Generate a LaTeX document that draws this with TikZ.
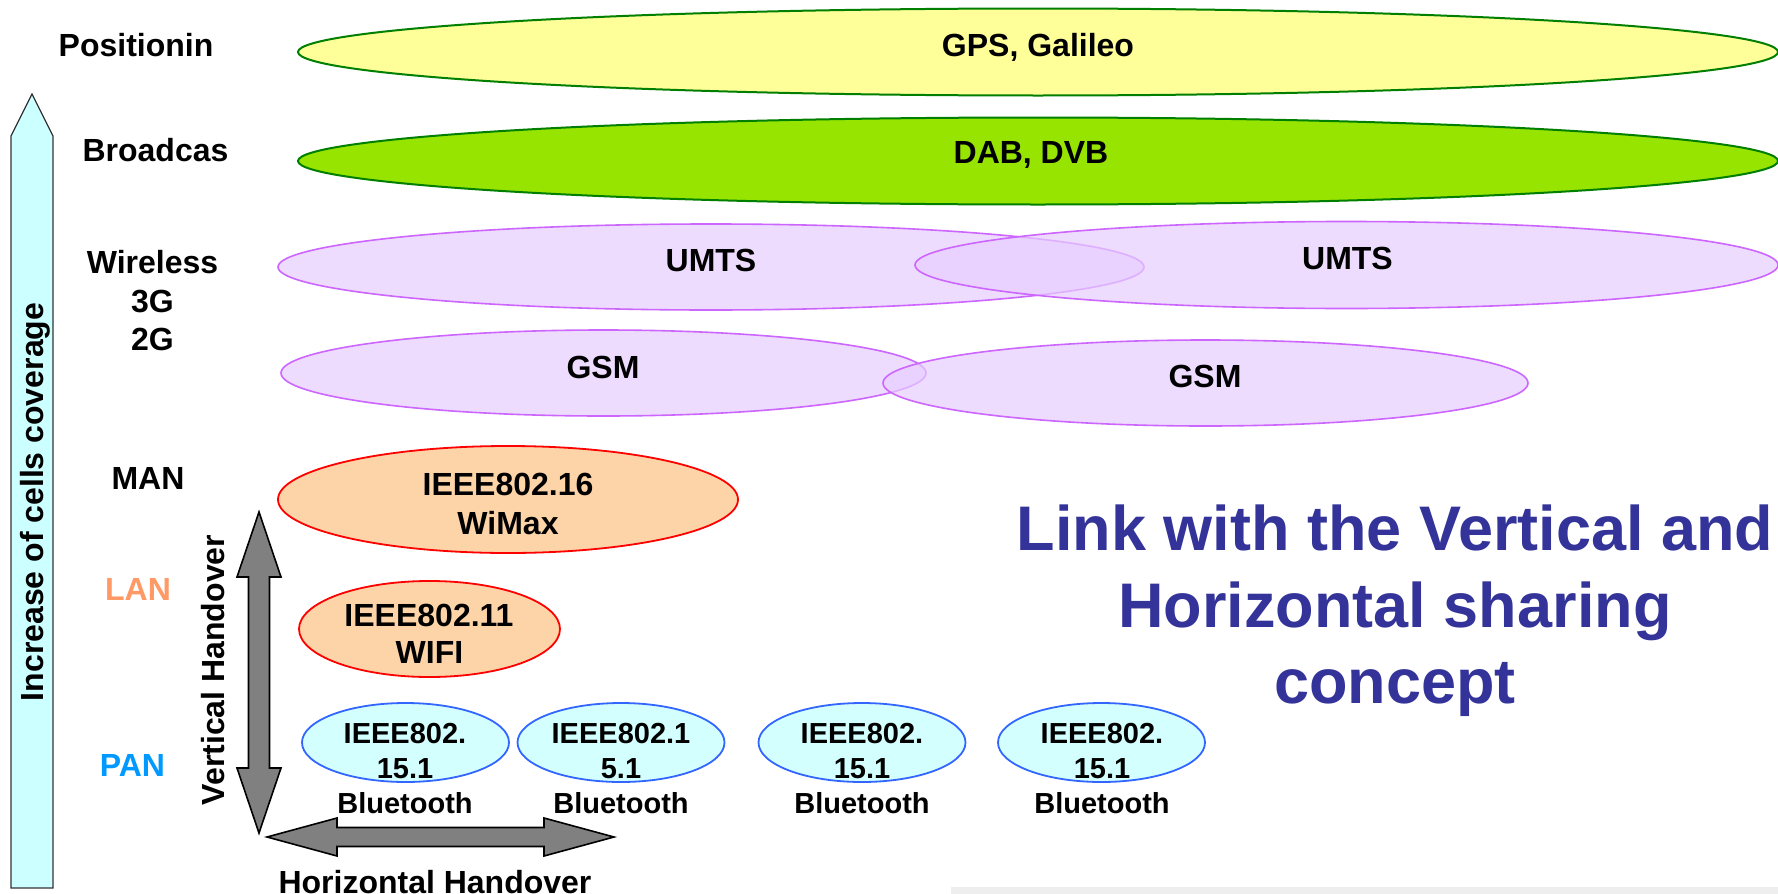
\documentclass[tikz,border=0pt]{standalone}
\usepackage{fontspec}
\setmainfont{Liberation Sans}
\usetikzlibrary{shapes.geometric}
\definecolor{yelfill}{HTML}{FFFF99}
\definecolor{grnfill}{HTML}{96E400}
\definecolor{grnline}{HTML}{007F00}
\definecolor{purfill}{HTML}{E7CEFF}
\definecolor{purline}{HTML}{CC66FF}
\definecolor{peach}{HTML}{FDD4A8}
\definecolor{btfill}{HTML}{D4FFFF}
\definecolor{btline}{HTML}{3366FF}
\definecolor{cyanfill}{HTML}{CCFFFF}
\definecolor{lancol}{HTML}{FF9966}
\definecolor{pancol}{HTML}{0099FF}
\definecolor{titlecol}{HTML}{333399}
\definecolor{arrgray}{HTML}{808080}
\begin{document}
\begin{tikzpicture}[x=0.5pt,y=-0.5pt,
  lbl/.style={font=\bfseries\fontsize{16}{19}\selectfont, inner sep=0pt, anchor=base},
  small/.style={font=\bfseries\fontsize{14.5}{17}\selectfont, inner sep=0pt, anchor=base},
  title/.style={font=\bfseries\fontsize{31.5}{38}\selectfont, inner sep=0pt, anchor=base, text=titlecol},
  ell/.style={ellipse, inner sep=0pt, draw},
  satell/.style={ell, draw=grnline, line width=1pt},
  purell/.style={ell, draw=purline, fill=purfill, fill opacity=0.7, line width=0.8pt},
  redell/.style={ell, draw=red, fill=peach, line width=0.9pt},
  btell/.style={ell, draw=btline, fill=btfill, line width=0.9pt, minimum width=103.5pt, minimum height=39.5pt},
  handarrow/.style={fill=arrgray, draw=black, line width=0.8pt, line join=miter}
]
\useasboundingbox (0,0) rectangle (1778,894);
\fill[white] (0,0) rectangle (1778,894);
\fill[gray!13] (951,887) rectangle (1778,894);

% big coverage arrow
\draw[fill=cyanfill, draw=black!80, line width=0.6pt] (11,888) -- (11,136) -- (32,94) -- (53,136) -- (53,888) -- cycle;
\node[lbl, rotate=90] (cov) at (43,502) {Increase of cells coverage};

% ellipses
\node[satell, fill=yelfill, minimum width=740pt, minimum height=43.5pt] (gps) at (1038,52) {};
\node[satell, fill=grnfill, minimum width=740pt, minimum height=43.5pt] (dab) at (1038,161) {};
\node[purell, minimum width=433pt, minimum height=43pt] (umtsL) at (711,267) {};
\node[purell, minimum width=431.5pt, minimum height=43.5pt] (umtsR) at (1346.5,265) {};
\node[purell, minimum width=322.5pt, minimum height=43pt] (gsmL) at (603.5,373) {};
\node[purell, minimum width=322.5pt, minimum height=43pt] (gsmR) at (1205.5,383) {};
\node[redell, minimum width=230pt, minimum height=53.5pt] (wimax) at (508,499.5) {};
\node[redell, minimum width=130.5pt, minimum height=48pt] (wifi) at (429.5,629) {};
\node[btell] (bt1) at (405.5,742.5) {};
\node[btell] (bt2) at (621,742.5) {};
\node[btell] (bt3) at (862,742.5) {};
\node[btell] (bt4) at (1101.5,742.5) {};

% handover arrows
\draw[handarrow] (259,512) -- (281,577) -- (269.5,577) -- (269.5,768) -- (281,768) -- (259,833)
  -- (237,768) -- (248.5,768) -- (248.5,577) -- (237,577) -- cycle;
\draw[handarrow] (267,837) -- (337,818) -- (337,827.5) -- (544,827.5) -- (544,818) -- (614,837)
  -- (544,856) -- (544,846.5) -- (337,846.5) -- (337,856) -- cycle;
\node[lbl, rotate=90] (vh) at (224,670) {Vertical Handover};
\node[lbl] (hh) at (435,893) {Horizontal Handover};

% left labels
\node[lbl] (lpos) at (136,56) {Positionin};
\node[lbl] (lbro) at (155.5,161) {Broadcas};
\node[lbl] (lwir) at (152.5,273) {Wireless};
\node[lbl] (l3g) at (152.5,312) {3G};
\node[lbl] (l2g) at (152.5,350) {2G};
\node[lbl] (lman) at (148,489) {MAN};
\node[lbl, text=lancol] (llan) at (138,600) {LAN};
\node[lbl, text=pancol] (lpan) at (132.5,776) {PAN};

% ellipse texts
\node[lbl] (tgps) at (1038,56) {GPS, Galileo};
\node[lbl] (tdab) at (1031,163) {DAB, DVB};
\node[lbl] (tumtsL) at (711,271) {UMTS};
\node[lbl] (tumtsR) at (1347.5,269) {UMTS};
\node[lbl] (tgsmL) at (603,378) {GSM};
\node[lbl] (tgsmR) at (1205,387) {GSM};
\node[lbl] (twm1) at (508,495) {IEEE802.16};
\node[lbl] (twm2) at (508,534) {WiMax};
\node[lbl] (twf1) at (429,626) {IEEE802.11};
\node[lbl] (twf2) at (429.5,663) {WIFI};

\node[small] (b1a) at (405,743) {IEEE802.};
\node[small] (b1b) at (405,778) {15.1};
\node[small] (b1c) at (405,813) {Bluetooth};
\node[small] (b2a) at (621,743) {IEEE802.1};
\node[small] (b2b) at (621,778) {5.1};
\node[small] (b2c) at (621,813) {Bluetooth};
\node[small] (b3a) at (862,743) {IEEE802.};
\node[small] (b3b) at (862,778) {15.1};
\node[small] (b3c) at (862,813) {Bluetooth};
\node[small] (b4a) at (1102,743) {IEEE802.};
\node[small] (b4b) at (1102,778) {15.1};
\node[small] (b4c) at (1102,813) {Bluetooth};

% title
\node[title] (ti1) at (1395,550) {Link with the Vertical and};
\node[title] (ti2) at (1395,627) {Horizontal sharing};
\node[title] (ti3) at (1395,703) {concept};
\end{tikzpicture}
\end{document}
